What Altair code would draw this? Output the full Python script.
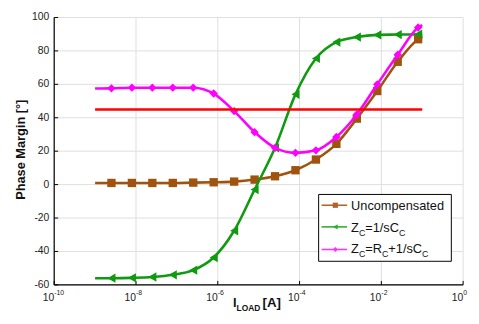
import altair as alt
import pandas as pd

FONT = "Liberation Sans"
W, H = 416, 272

# ---- data ----
marker_exp = [-8.6, -8.1, -7.6, -7.1, -6.6, -6.1, -5.6, -5.1, -4.6, -4.1,
              -3.6, -3.1, -2.6, -2.1, -1.6, -1.1]
uncomp = [1.0, 1.0, 1.0, 1.0, 1.2, 1.4, 1.8, 3.0, 5.0, 8.6,
          15.0, 24.4, 39.5, 56.0, 73.5, 87.0]
zc_c = [-56.0, -55.8, -55.3, -54.0, -51.2, -43.6, -27.6, -3.0, 22.0, 54.0,
        75.5, 85.3, 88.3, 89.6, 89.8, 90.0]
zc_rc = [57.6, 58.0, 58.0, 58.0, 58.0, 54.5, 44.0, 31.4, 22.0, 19.0,
         20.5, 28.5, 42.0, 60.0, 77.7, 94.0]
line_start_exp, line_end_exp = -9.0, -1.0
uncomp_ends = [1.0, 88.5]
zc_c_ends = [-56.0, 90.2]
zc_rc_ends = [57.5, 95.5]
ref_x = [1e-9, 1e-1]
ref_y = [45, 45]

series_names = ["Uncompensated", "Z_C=1/sC_C", "Z_C=R_C+1/sC_C"]
series_vals = [uncomp, zc_c, zc_rc]
series_ends = [uncomp_ends, zc_c_ends, zc_rc_ends]
colors = ["#a0520f", "#109a10", "#ff00ff"]
shapes = ["square", "triangle-left", "diamond"]
msizes = [72, 90, 72]

x_ticks = [1e-10, 1e-8, 1e-6, 1e-4, 1e-2, 1e0]
x_tick_exp = ["-10", "-8", "-6", "-4", "-2", "0"]
y_ticks = [-60, -40, -20, 0, 20, 40, 60, 80, 100]
y_tick_labels = ["-60", "-40", "-20", "0", "20", "40", "60", "80", "100"]

xs = alt.Scale(type="log", domain=[1e-10, 1])
ys = alt.Scale(domain=[-60, 100], nice=False)

xt_df = pd.DataFrame({"v": x_ticks, "e": x_tick_exp})
yt_df = pd.DataFrame({"v": y_ticks, "t": y_tick_labels})

GRID = "#dedede"
layers = []

# grid
layers.append(alt.Chart(xt_df).mark_rule(color=GRID, strokeWidth=1).encode(
    x=alt.X("v:Q", scale=xs, axis=None), y=alt.value(0), y2=alt.value(H)))
layers.append(alt.Chart(yt_df).mark_rule(color=GRID, strokeWidth=1).encode(
    y=alt.Y("v:Q", scale=ys, axis=None), x=alt.value(0), x2=alt.value(W)))

one = alt.Data(values=[{"a": 1}])

# axis lines
layers.append(alt.Chart(one).mark_rule(color="black", strokeWidth=1.2).encode(
    x=alt.value(0), y=alt.value(0), y2=alt.value(H)))
layers.append(alt.Chart(one).mark_rule(color="black", strokeWidth=1.2).encode(
    x=alt.value(0), x2=alt.value(W), y=alt.value(H)))

# inward ticks
layers.append(alt.Chart(xt_df).mark_rule(color="black", strokeWidth=1).encode(
    x=alt.X("v:Q", scale=xs, axis=None), y=alt.value(H), y2=alt.value(H - 4)))
layers.append(alt.Chart(yt_df).mark_rule(color="black", strokeWidth=1).encode(
    y=alt.Y("v:Q", scale=ys, axis=None), x=alt.value(0), x2=alt.value(4)))

# x tick labels 10^n
layers.append(alt.Chart(xt_df).mark_text(text="10", font=FONT, fontSize=10.5, align="right",
                                         baseline="alphabetic", color="#222222").encode(
    x=alt.X("v:Q", scale=xs, axis=None), y=alt.value(H + 16)))
layers.append(alt.Chart(xt_df).mark_text(font=FONT, fontSize=7, align="left",
                                         baseline="alphabetic", color="#222222").encode(
    x=alt.X("v:Q", scale=xs, axis=None), y=alt.value(H + 10), text="e:N"))

# y tick labels
layers.append(alt.Chart(yt_df).mark_text(font=FONT, fontSize=10.5, align="right",
                                         baseline="middle", color="#222222").encode(
    y=alt.Y("v:Q", scale=ys, axis=None), x=alt.value(-5), text="t:N"))

# series
for name, vals, ends, col, shp, ms in zip(series_names, series_vals, series_ends,
                                          colors, shapes, msizes):
    lx = [10 ** line_start_exp] + [10 ** e for e in marker_exp] + [10 ** line_end_exp]
    ly = [ends[0]] + vals + [ends[1]]
    ldf = pd.DataFrame({"x": lx, "y": ly})
    mdf = pd.DataFrame({"x": [10 ** e for e in marker_exp], "y": vals})
    layers.append(alt.Chart(ldf).mark_line(color=col, strokeWidth=2.6, interpolate="monotone").encode(
        x=alt.X("x:Q", scale=xs, axis=None), y=alt.Y("y:Q", scale=ys, axis=None)))
    layers.append(alt.Chart(mdf).mark_point(shape=shp, filled=True, color=col, size=ms, opacity=1).encode(
        x=alt.X("x:Q", scale=xs, axis=None), y=alt.Y("y:Q", scale=ys, axis=None)))

# red 45 deg line
rdf = pd.DataFrame({"x": ref_x, "y": ref_y})
layers.append(alt.Chart(rdf).mark_line(color="#ff0000", strokeWidth=2.6).encode(
    x=alt.X("x:Q", scale=xs, axis=None), y=alt.Y("y:Q", scale=ys, axis=None)))

# ---- text helpers ----
AW = {"Z": 611, "C": 722, "=": 584, "1": 556, "/": 278, "s": 500, "R": 722, "+": 584}


def width(s, size):
    return sum(AW.get(ch, 556) for ch in s) * size / 1000.0


def txt(s, x, y, size, bold=False, align="left", color="#111111", angle=0):
    return alt.Chart(one).mark_text(text=s, font=FONT, fontSize=size,
                                    fontWeight="bold" if bold else "normal", angle=angle,
                                    align=align, baseline="alphabetic", color=color).encode(
        x=alt.value(x), y=alt.value(y))


def rich(parts, x, y, size=13, sub_size=9, sub_drop=4):
    out = []
    cx = x
    for s, is_sub in parts:
        if is_sub:
            out.append(txt(s, cx, y + sub_drop, sub_size))
            cx += width(s, sub_size)
        else:
            out.append(txt(s, cx, y, size))
            cx += width(s, size)
    return out


# y title
layers.append(txt("Phase Margin [°]", -30, H / 2 - 1.5, 13, bold=True, align="center", angle=270))

# x title: I_LOAD [A]
layers.append(txt("I", 182, 295, 13, bold=True))
layers.append(txt("LOAD", 185.5, 299, 8.5, bold=True))
layers.append(txt("[A]", 212, 295, 13.5, bold=True))

# ---- legend ----
LX0, LX1, LY0, LY1 = 269, 404, 180, 248
layers.append(alt.Chart(one).mark_rect(fill="white", stroke="black", strokeWidth=1).encode(
    x=alt.value(LX0), x2=alt.value(LX1), y=alt.value(LY0), y2=alt.value(LY1)))
rows_y = [191, 213, 236]
leg_colors = ["#b0642a", "#2db02d", "#ff33ff"]
for ry, col, shp in zip(rows_y, leg_colors, shapes):
    layers.append(alt.Chart(one).mark_rule(color=col, strokeWidth=1.6).encode(
        x=alt.value(272), x2=alt.value(298), y=alt.value(ry)))
    layers.append(alt.Chart(one).mark_point(shape=shp, filled=True, color=col, size=28, opacity=1).encode(
        x=alt.value(286), y=alt.value(ry)))
TX = 302
layers.append(txt(series_names[0], TX, rows_y[0] + 5, 13))
layers += rich([("Z", False), ("C", True), ("=1/sC", False), ("C", True)], TX, rows_y[1] + 5)
layers += rich([("Z", False), ("C", True), ("=R", False), ("C", True), ("+1/sC", False), ("C", True)],
               TX, rows_y[2] + 4)

chart = alt.layer(*layers).properties(
    width=W, height=H,
    autosize=alt.AutoSizeParams(type="none"),
    padding={"left": 47, "top": 7, "right": 8, "bottom": 29},
    background="white",
).configure_view(strokeWidth=0)

chart.save("out.html", embed_options={"renderer": "svg", "actions": False})
